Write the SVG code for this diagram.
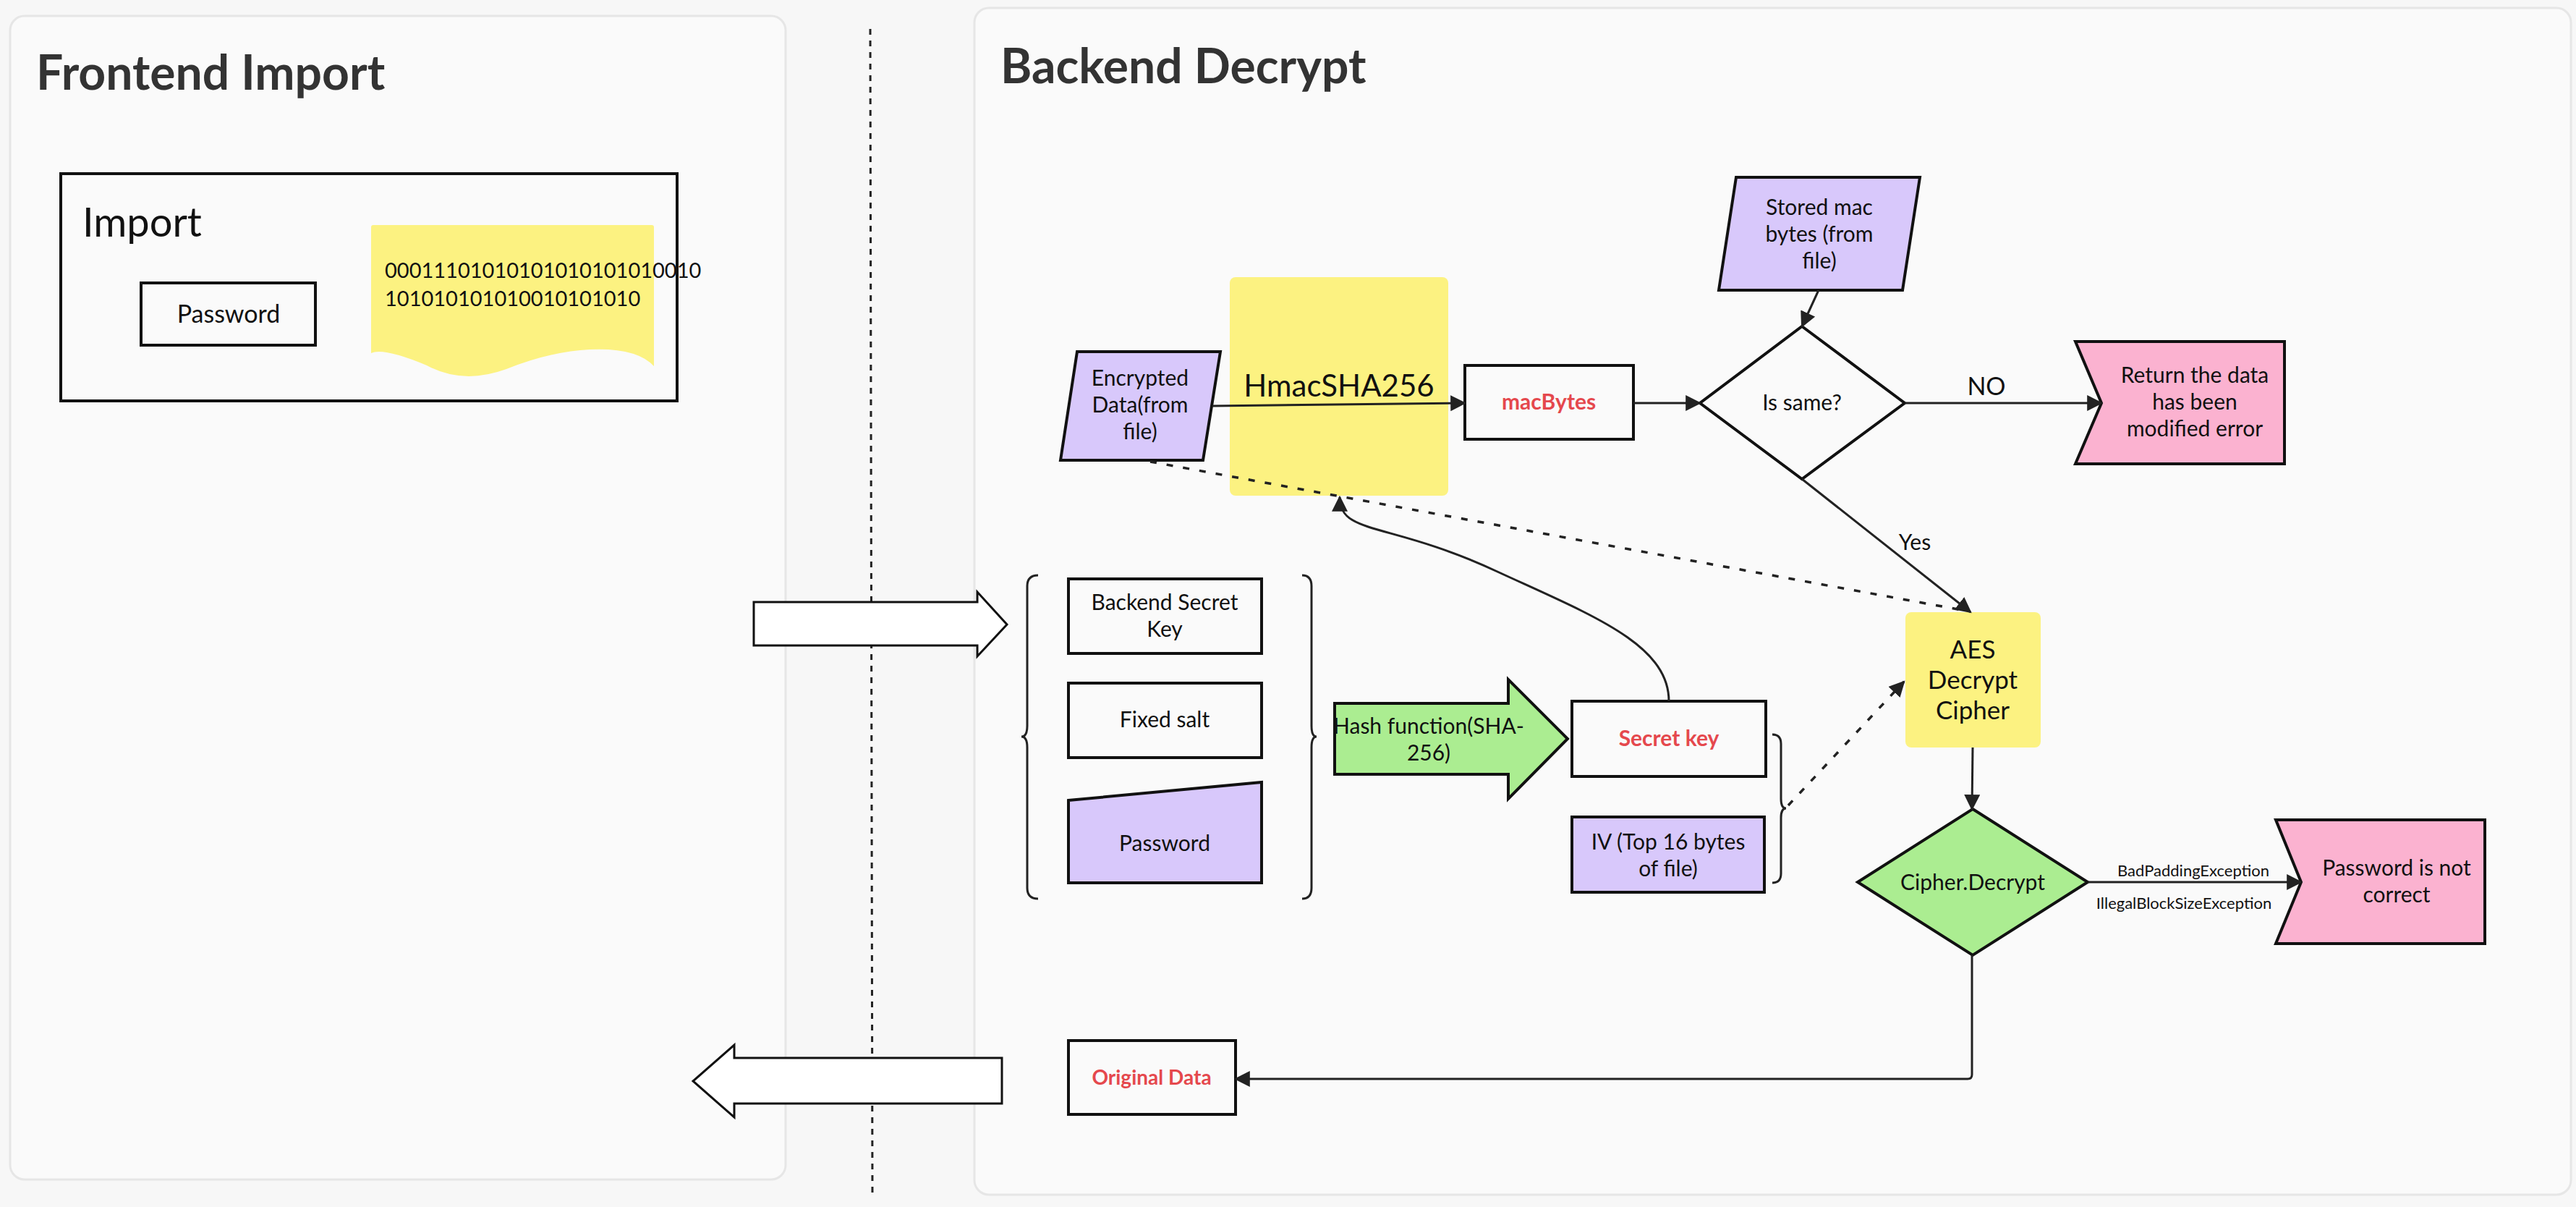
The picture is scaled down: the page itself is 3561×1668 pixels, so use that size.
<svg xmlns="http://www.w3.org/2000/svg" width="3561" height="1668" viewBox="0 0 3561 1668">
<defs>
<style>
text{font-family:Lato,"Open Sans","Liberation Sans",sans-serif;fill:#111}
.c{text-anchor:middle}
.n{stroke:#111;stroke-width:4}
.ln{fill:none;stroke:#222;stroke-width:3}
.dot{fill:none;stroke:#222;stroke-width:3.5;stroke-dasharray:9 14}
.red{fill:#e5484d;font-weight:bold}
.t30{font-size:30px}
</style>
<marker id="ah" viewBox="0 0 10 10" refX="9" refY="5" markerWidth="7" markerHeight="7" markerUnits="userSpaceOnUse" orient="auto-start-reverse"><path d="M0,0 L10,5 L0,10 z" fill="#222"/></marker>
<marker id="ah2" viewBox="0 0 10 10" refX="9" refY="5" markerWidth="22" markerHeight="22" markerUnits="userSpaceOnUse" orient="auto"><path d="M0,0 L10,5 L0,10 z" fill="#222"/></marker>
</defs>
<rect width="3561" height="1668" fill="#f7f7f7"/>
<g id="panels">
<rect x="14" y="22" width="1072" height="1608" rx="20" fill="#fafafa" stroke="#e6e6e6" stroke-width="3"/>
<rect x="1347" y="11" width="2207" height="1640" rx="20" fill="#fafafa" stroke="#e6e6e6" stroke-width="3"/>
<line x1="1203" y1="40" x2="1206" y2="1655" stroke="#222" stroke-width="3" stroke-dasharray="8 8"/>
<text x="50" y="124" font-size="66" font-weight="bold" fill="#333" style="fill:#333">Frontend Import</text>
<text x="1383" y="115" font-size="66" font-weight="bold" style="fill:#333">Backend Decrypt</text>
</g>
<g id="import">
<rect x="84" y="240" width="852" height="314" fill="#fafafa" stroke="#111" stroke-width="4"/>
<text x="114" y="327" font-size="56">Import</text>
<rect x="195" y="391" width="241" height="86" fill="#fafafa" class="n"/>
<text x="316" y="446" class="c" font-size="34">Password</text>
<path d="M513,314 Q513,311 516,311 L901,311 Q904,311 904,314 L904,506 Q880,480 815,483 Q760,486 700,510 Q640,532 590,505 Q530,480 513,488 Z" fill="#fcf281"/>
<text x="532" y="384" font-size="29">00011101010101010101010010</text>
<text x="532" y="423" font-size="29">1010101010100101010​10</text>
</g>
<g id="arrows-io">
<path d="M1042,832 L1351,832 L1351,818 L1392,863 L1351,907 L1351,892 L1042,892 Z" fill="#fff" stroke="#111" stroke-width="3"/>
<path d="M1385,1462 L1015,1462 L1015,1444 L958,1494 L1015,1544 L1015,1525 L1385,1525 Z" fill="#fff" stroke="#111" stroke-width="3"/>
</g>
<g id="encrypted">
<path d="M1489,486 L1687,486 L1663,636 L1466,636 Z" fill="#d8c8fb" class="n"/>
<text x="1576" y="533" class="c t30">Encrypted</text>
<text x="1576" y="570" class="c t30">Data(from</text>
<text x="1576" y="607" class="c t30">file)</text>
</g>
<g id="hmac">
<rect x="1700" y="383" width="302" height="302" rx="8" fill="#fcf281"/>
<text x="1851" y="548" class="c" font-size="42">HmacSHA256</text>
</g>
<g id="macbytes">
<rect x="2025" y="505" width="233" height="102" fill="#fafafa" class="n"/>
<text x="2141" y="566" class="c red t30">macBytes</text>
</g>
<g id="issame">
<path d="M2491,451 L2633,557 L2491,662 L2350,557 Z" fill="#fafafa" class="n" stroke-width="3"/>
<text x="2491" y="567" class="c t30">Is same?</text>
</g>
<g id="storedmac">
<path d="M2400,245 L2654,245 L2630,401 L2376,401 Z" fill="#d8c8fb" class="n"/>
<text x="2515" y="297" class="c t30">Stored mac</text>
<text x="2515" y="334" class="c t30">bytes (from</text>
<text x="2515" y="371" class="c t30">file)</text>
</g>
<g id="return">
<path d="M2869,472 L3158,472 L3158,641 L2869,641 L2905,557 Z" fill="#fbb2d0" class="n"/>
<text x="3034" y="529" class="c t30">Return the data</text>
<text x="3034" y="566" class="c t30">has been</text>
<text x="3034" y="603" class="c t30">modified error</text>
</g>
<g id="aes">
<rect x="2634" y="846" width="187" height="187" rx="8" fill="#fcf281"/>
<text x="2727" y="910" class="c" font-size="35">AES</text>
<text x="2727" y="952" class="c" font-size="35">Decrypt</text>
<text x="2727" y="994" class="c" font-size="35">Cipher</text>
</g>
<g id="inputs">
<path d="M1435,795 Q1420,795 1420,810 L1420,1003 Q1420,1018 1412,1018 Q1420,1018 1420,1033 L1420,1227 Q1420,1242 1435,1242" class="ln"/>
<path d="M1800,795 Q1813,795 1813,810 L1813,1003 Q1813,1018 1820,1018 Q1813,1018 1813,1033 L1813,1227 Q1813,1242 1800,1242" class="ln"/>
<rect x="1477" y="800" width="267" height="103" fill="#fafafa" class="n"/>
<text x="1610" y="843" class="c t30">Backend Secret</text>
<text x="1610" y="880" class="c t30">Key</text>
<rect x="1477" y="944" width="267" height="103" fill="#fafafa" class="n"/>
<text x="1610" y="1005" class="c t30">Fixed salt</text>
<path d="M1477,1106 L1744,1081 L1744,1220 L1477,1220 Z" fill="#d8c8fb" class="n"/>
<text x="1610" y="1176" class="c t30">Password</text>
</g>
<g id="hash">
<path d="M1845,972 L2085,972 L2085,939 L2167,1021 L2085,1104 L2085,1070 L1845,1070 Z" fill="#abed91" class="n" stroke-width="3"/>
<text x="1975" y="1014" class="c t30">Hash function(SHA-</text>
<text x="1975" y="1051" class="c t30">256)</text>
</g>
<g id="secretkey">
<rect x="2173" y="969" width="268" height="104" fill="#fafafa" class="n"/>
<text x="2307" y="1031" class="c red t30">Secret key</text>
</g>
<g id="iv">
<rect x="2173" y="1129" width="266" height="104" fill="#d8c8fb" class="n"/>
<text x="2306" y="1174" class="c t30">IV (Top 16 bytes</text>
<text x="2306" y="1211" class="c t30">of file)</text>
<path d="M2450,1015 Q2462,1015 2462,1028 L2462,1104 Q2462,1117 2469,1117 Q2462,1117 2462,1130 L2462,1207 Q2462,1220 2450,1220" class="ln"/>
</g>
<g id="cipherdecrypt">
<path d="M2727,1118 L2886,1219 L2727,1320 L2568,1219 Z" fill="#abed91" class="n" stroke-width="3"/>
<text x="2727" y="1230" class="c t30">Cipher.Decrypt</text>
</g>
<g id="notcorrect">
<path d="M3146,1133 L3435,1133 L3435,1304 L3146,1304 L3181,1219 Z" fill="#fbb2d0" class="n"/>
<text x="3313" y="1210" class="c t30">Password is not</text>
<text x="3313" y="1247" class="c t30">correct</text>
</g>
<g id="original">
<rect x="1477" y="1438" width="231" height="102" fill="#fafafa" class="n"/>
<text x="1592" y="1499" class="c red" font-size="28">Original Data</text>
</g>
<g id="connectors">
<path d="M1676,561 L2025,557" class="ln" marker-end="url(#ah2)"/>
<path d="M2258,557 L2350,557" class="ln" marker-end="url(#ah2)"/>
<path d="M2514,401 L2491,451" class="ln" marker-end="url(#ah2)"/>
<path d="M2633,557 L2905,557" class="ln" marker-end="url(#ah2)"/>
<text x="2746" y="546" class="c" font-size="34">NO</text>
<path d="M2491,662 L2724,846" class="ln" marker-end="url(#ah2)"/>
<text x="2647" y="760" class="c t30">Yes</text>
<path d="M1590,638 L2712,843" class="dot"/>
<path d="M2307,969 C2307,890 2200,850 2070,790 C1920,720 1852,740 1852,687" class="ln" marker-end="url(#ah2)"/>
<path d="M2472,1113 L2632,942" class="dot" marker-end="url(#ah2)"/>
<path d="M2727,1033 L2726,1118" class="ln" marker-end="url(#ah2)"/>
<path d="M2886,1219 L3181,1219" class="ln" marker-end="url(#ah2)"/>
<text x="3032" y="1211" class="c" font-size="22">BadPaddingException</text>
<text x="3019" y="1256" class="c" font-size="22">IllegalBlockSizeException</text>
<path d="M2726,1320 L2726,1485 Q2726,1491 2720,1491 L1708,1491" class="ln" marker-end="url(#ah2)"/>
</g>
</svg>
